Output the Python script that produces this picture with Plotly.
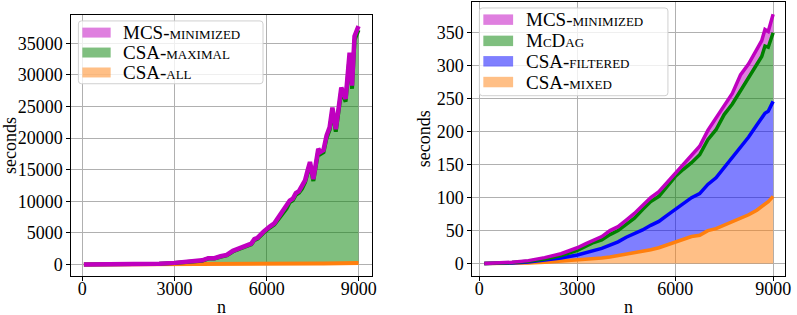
import plotly.graph_objects as go

# ---------------- data: left panel ----------------
n_left = [50, 500, 1000, 1500, 2000, 2500, 3000, 3300, 3600, 3900, 4100, 4300, 4500, 4700, 4900,
          5100, 5300, 5500, 5600, 5700, 5900, 6000, 6100, 6250, 6350, 6450, 6550, 6650, 6750, 6850,
          6950, 7050, 7150, 7250, 7330, 7410, 7520, 7600, 7680, 7750, 7850, 7950, 8050, 8140, 8250,
          8350, 8430, 8570, 8700, 8780, 8860, 8990]
mcs_minimized_left = [0, 5, 15, 35, 70, 130, 250, 330, 450, 650, 1000, 1000, 1300, 1500, 2150,
                      2500, 3000, 3300, 4000, 4200, 5200, 5700, 6000, 6500, 7200, 7900, 8600, 9100, 10100, 10400,
                      11300, 11600, 12300, 13300, 14800, 16200, 13500, 16500, 18300, 17800, 18100, 20400, 21700, 24800, 21400,
                      25000, 28000, 26200, 33500, 28300, 36100, 37700]
csa_maximal_left = [0, 4, 12, 30, 60, 115, 220, 300, 410, 600, 930, 940, 1220, 1420, 2050,
                    2380, 2870, 3170, 3850, 4050, 5020, 5500, 5800, 6300, 6980, 7680, 8370, 8860, 9850, 10150,
                    11020, 11330, 12000, 13000, 14450, 15850, 13200, 16150, 17900, 17450, 17750, 20000, 21300, 24300, 21000,
                    24550, 27500, 25750, 32900, 27800, 35500, 37100]
csa_all_left = [0, 0, 1, 2, 3, 5, 8, 10, 12, 15, 18, 21, 24, 28, 32,
                36, 41, 46, 49, 52, 58, 62, 66, 72, 76, 80, 85, 90, 95, 100,
                106, 112, 118, 124, 129, 134, 141, 146, 151, 156, 163, 170, 177, 183, 191,
                198, 204, 214, 224, 230, 237, 247]

# ---------------- data: right panel ----------------
n_right = [150, 500, 1000, 1500, 2000, 2500, 3000, 3250, 3500, 3750, 4000, 4250, 4500, 4750, 5000,
           5250, 5500, 5750, 6000, 6250, 6500, 6750, 7000, 7250, 7500, 7750, 8000, 8250, 8500,
           8650, 8750, 8850, 9000]
mcs_minimized_right = [0, 0.5, 2, 4.5, 9, 15, 24, 30, 36, 41, 50, 56, 66, 76, 88,
                       100, 109, 123, 137, 150, 163, 178, 202, 220, 240, 258, 286, 303, 325,
                       338, 355, 352, 378]
mcdag_right = [0, 0.3, 1.5, 3.5, 7, 12, 20, 26, 32, 36, 44, 50, 60, 69, 82,
               94, 102, 116, 132, 143, 153, 165, 188, 203, 226, 242, 262, 282, 302,
               314, 330, 328, 350]
csa_filtered_right = [0, 0.2, 1, 2.5, 5, 8.5, 13, 16, 20, 23, 28, 33, 40, 45, 51,
                      58, 64, 73, 82, 90, 100, 106, 120, 130, 145, 160, 177, 192, 210,
                      222, 228, 231, 246]
csa_mixed_right = [0, 0.1, 0.5, 1, 2, 3.5, 5, 6, 7.5, 8.5, 10, 12, 14, 16, 18.5,
                   21, 24, 28, 32, 36, 41, 43, 50, 53, 58, 63, 68, 74, 81,
                   86, 90, 94, 102]

x_ticks = [0, 3000, 6000, 9000]
y_ticks_left = [0, 5000, 10000, 15000, 20000, 25000, 30000, 35000]
y_ticks_right = [0, 50, 100, 150, 200, 250, 300, 350]

legend_left_names = ["MCS-minimized", "CSA-maximal", "CSA-all"]
legend_right_names = ["MCS-minimized", "McDag", "CSA-filtered", "CSA-mixed"]

# ---------------- styles ----------------
C_M_LINE, C_M_FILL = "rgb(191,0,191)", "rgba(191,0,191,0.5)"
C_G_LINE, C_G_FILL = "rgb(0,128,0)", "rgba(0,128,0,0.5)"
C_B_LINE, C_B_FILL = "rgb(0,0,255)", "rgba(0,0,255,0.5)"
C_O_LINE, C_O_FILL = "rgb(255,127,14)", "rgba(255,127,14,0.5)"
FONT = "Liberation Serif"
W, H = 797, 315

fig = go.Figure()

def fill(x, y, color, name, xa, ya, first):
    fig.add_trace(go.Scatter(x=x, y=y, mode="lines", line=dict(width=0, color=color),
                             fill="tozeroy" if first else "tonexty", fillcolor=color,
                             name=name, xaxis=xa, yaxis=ya, showlegend=False, hoverinfo="skip"))

def line(x, y, color, xa, ya, w=4):
    fig.add_trace(go.Scatter(x=x, y=y, mode="lines", line=dict(width=w, color=color),
                             showlegend=False, xaxis=xa, yaxis=ya, hoverinfo="skip"))

# left panel
fill(n_left, csa_all_left, C_O_FILL, legend_left_names[2], "x", "y", True)
fill(n_left, csa_maximal_left, C_G_FILL, legend_left_names[1], "x", "y", False)
fill(n_left, mcs_minimized_left, C_M_FILL, legend_left_names[0], "x", "y", False)
# right panel
fill(n_right, csa_mixed_right, C_O_FILL, legend_right_names[3], "x2", "y2", True)
fill(n_right, csa_filtered_right, C_B_FILL, legend_right_names[2], "x2", "y2", False)
fill(n_right, mcdag_right, C_G_FILL, legend_right_names[1], "x2", "y2", False)
fill(n_right, mcs_minimized_right, C_M_FILL, legend_right_names[0], "x2", "y2", False)

line(n_left, csa_all_left, C_O_LINE, "x", "y")
line(n_left, csa_maximal_left, C_G_LINE, "x", "y")
line(n_left, mcs_minimized_left, C_M_LINE, "x", "y", 4.5)
line(n_right, csa_mixed_right, C_O_LINE, "x2", "y2", 3.5)
line(n_right, csa_filtered_right, C_B_LINE, "x2", "y2", 3.5)
line(n_right, mcdag_right, C_G_LINE, "x2", "y2", 3.5)
line(n_right, mcs_minimized_right, C_M_LINE, "x2", "y2", 3.5)

axis_common = dict(showline=True, linecolor="black", linewidth=1.3, mirror=True,
                   ticks="outside", ticklen=4, tickcolor="black", tickwidth=1,
                   showgrid=True, gridcolor="#b0b0b0", gridwidth=1, zeroline=False,
                   tickformat="d",
                   tickfont=dict(family=FONT, size=18, color="black"))

# ---------------- legends (drawn in pixel positions) ----------------
shapes, annotations = [], []

def px(x):
    return x / W

def py(y):
    return 1 - y / H

def rounded_box(x0, y0, x1, y1, r=3):
    p = (f"M {px(x0 + r)},{py(y0)} L {px(x1 - r)},{py(y0)} Q {px(x1)},{py(y0)} {px(x1)},{py(y0 + r)} "
         f"L {px(x1)},{py(y1 - r)} Q {px(x1)},{py(y1)} {px(x1 - r)},{py(y1)} "
         f"L {px(x0 + r)},{py(y1)} Q {px(x0)},{py(y1)} {px(x0)},{py(y1 - r)} "
         f"L {px(x0)},{py(y0 + r)} Q {px(x0)},{py(y0)} {px(x0 + r)},{py(y0)} Z")
    shapes.append(dict(type="path", path=p, xref="paper", yref="paper", layer="above",
                       line=dict(color="#d0d0d0", width=1), fillcolor="rgba(255,255,255,0.8)"))

def legend(box, names, colors, rows_y, sw_x0, sw_x1, text_x, sw_h=10):
    rounded_box(*box)
    for name, col, yc in zip(names, colors, rows_y):
        shapes.append(dict(type="rect", xref="paper", yref="paper", layer="above",
                           x0=px(sw_x0), x1=px(sw_x1), y0=py(yc - sw_h / 2), y1=py(yc + sw_h / 2),
                           line=dict(width=0), fillcolor=col))
        annotations.append(dict(text=name, x=px(text_x), y=py(yc), xref="paper", yref="paper",
                                xanchor="left", yanchor="middle", showarrow=False,
                                font=dict(family=FONT, size=19, color="black", variant="small-caps")))

legend((79, 20, 265, 83), legend_left_names, [C_M_FILL, C_G_FILL, C_O_FILL],
       [31.7, 51.7, 71.7], 83, 111.5, 122)
legend((483, 7, 673, 95), legend_right_names, [C_M_FILL, C_G_FILL, C_B_FILL, C_O_FILL],
       [18.7, 40.0, 60.5, 81.3], 487, 517, 528, sw_h=10.5)

# axis titles
for txt, x, y, ang, hgt in [("seconds", 9.5, 145, -90, None), ("seconds", 427, 138, -90, None),
                            ("n", 223, 306.5, 0, 15), ("n", 633, 306.5, 0, 15)]:
    ann = dict(text=txt, x=px(x), y=py(y), xref="paper", yref="paper", textangle=ang,
               xanchor="center", yanchor="middle", showarrow=False,
               font=dict(family=FONT, size=18, color="black"))
    if hgt:
        ann["height"] = hgt
        ann["valign"] = "middle"
    annotations.append(ann)

fig.update_layout(
    width=W, height=H, margin=dict(l=0, r=0, t=0, b=0),
    paper_bgcolor="white", plot_bgcolor="white", showlegend=False,
    xaxis=dict(domain=[72/W, 374.5/W], range=[-355, 9419], tickvals=x_ticks, anchor="y",
               ticklabelstandoff=-8, **axis_common),
    yaxis=dict(domain=[1-276/H, 1-14/H], range=[-1845, 39470], tickvals=y_ticks_left, anchor="x", **axis_common),
    xaxis2=dict(domain=[476/W, 790.7/W], range=[-213, 9356], tickvals=x_ticks, anchor="y2",
                ticklabelstandoff=-8, **axis_common),
    yaxis2=dict(domain=[1-276/H, 1-0.8/H], range=[-19, 397], tickvals=y_ticks_right, anchor="x2", **axis_common),
    shapes=shapes, annotations=annotations,
)

fig.write_html("out.html")
